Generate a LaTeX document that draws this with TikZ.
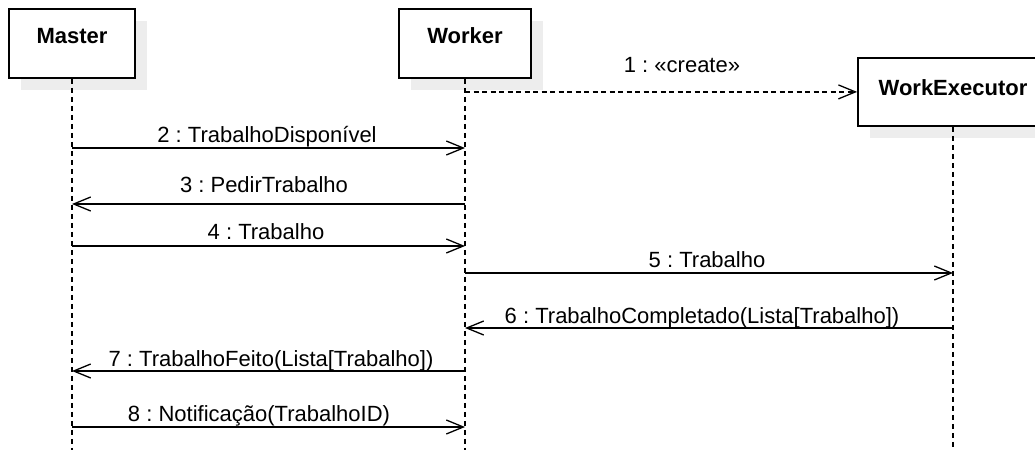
\documentclass[tikz,border=0pt]{standalone}
\usepackage{fontspec}
\setmainfont{Liberation Sans}
\usetikzlibrary{arrows.meta,shadows}
\frenchspacing
\begin{document}
\begin{tikzpicture}[x=1pt,y=-1pt,
  font=\fontsize{22}{26}\selectfont,
  >={Straight Barb[length=17pt,width=14pt]},
  actor/.style={draw=black, line width=1.8pt, fill=white, inner sep=0pt,
    anchor=north, font=\fontsize{22}{26}\selectfont\bfseries,
    drop shadow={shadow xshift=12pt, shadow yshift=-12pt, fill=black!7, opacity=1}},
  lifeline/.style={line width=1.8pt, dash pattern=on 5pt off 4pt},
  msg/.style={line width=1.3pt, ->},
  createmsg/.style={line width=1.3pt, ->, dash pattern=on 5pt off 3.5pt},
  lbl/.style={anchor=base, inner sep=0pt}]
\useasboundingbox (0,0) rectangle (1035,450);
\clip (0,0) rectangle (1035,450);

% participants
\node[actor, minimum width=126pt, text height=35pt, text depth=34pt] (master) at (72,8) {Master};
\node[actor, minimum width=132pt, text height=35pt, text depth=34pt] (worker) at (465,8) {Worker};
\node[actor, minimum width=190pt, text height=38pt, text depth=30pt] (exec) at (953,57) {WorkExecutor};

% lifelines
\coordinate (bottom) at (0,450);
\draw[lifeline] (master.south) -- (master.south |- bottom);
\draw[lifeline] (worker.south) -- (worker.south |- bottom);
\draw[lifeline] (exec.south) -- (exec.south |- bottom);

% messages
\draw[createmsg] (worker.south |- exec.west) -- (exec.west);
\node[lbl] (l1) at (682,72) {1 : «create»};

\draw[msg] (master.south |- 0,148) -- (worker.south |- 0,148);
\node[lbl] (l2) at (267,142) {2 : TrabalhoDisponível};

\draw[msg] (worker.south |- 0,204) -- (master.south |- 0,204);
\node[lbl] (l3) at (264,192) {3 : PedirTrabalho};

\draw[msg] (master.south |- 0,246) -- (worker.south |- 0,246);
\node[lbl] (l4) at (266,239) {4 : Trabalho};

\draw[msg] (worker.south |- 0,273) -- (exec.south |- 0,273);
\node[lbl] (l5) at (707,267) {5 : Trabalho};

\draw[msg] (exec.south |- 0,328) -- (worker.south |- 0,328);
\node[lbl] (l6) at (702,323) {6 : TrabalhoCompletado(Lista[Trabalho])};

\draw[msg] (worker.south |- 0,371) -- (master.south |- 0,371);
\node[lbl] (l7) at (271,366) {7 : TrabalhoFeito(Lista[Trabalho])};

\draw[msg] (master.south |- 0,427) -- (worker.south |- 0,427);
\node[lbl] (l8) at (259,421) {8 : Notificação(TrabalhoID)};
\end{tikzpicture}
\end{document}
